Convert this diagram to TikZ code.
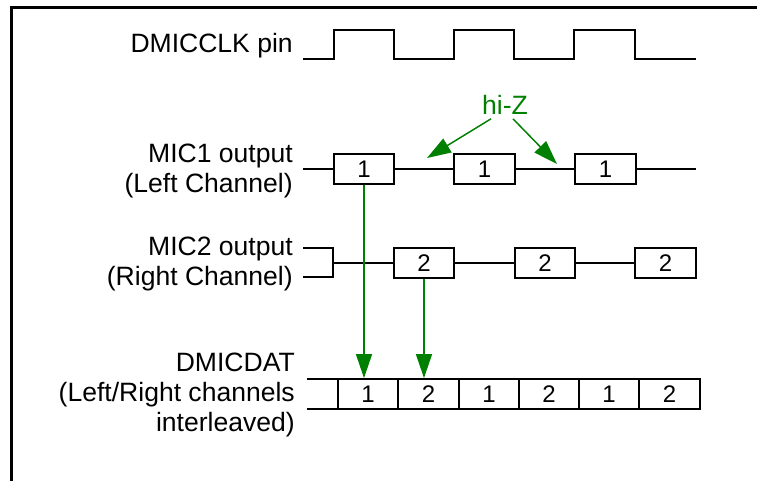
\documentclass[tikz,border=0pt]{standalone}
\usepackage{fontspec}
\setmainfont{Liberation Sans}
\usetikzlibrary{arrows.meta}
\definecolor{higreen}{RGB}{0,128,0}
\tikzset{
  wave/.style={line width=1.4pt},
  slot/.style={draw, line width=1.4pt, minimum width=45.4pt, minimum height=22.5pt, inner sep=0pt, font=\fontsize{18}{20}\selectfont},
  siglabel/.style={anchor=east, align=right, inner sep=0pt, font=\fontsize{19.9}{22.5}\selectfont},
  flow/.style={draw=higreen, line width=1.1pt, -{Triangle[length=18pt,width=12pt]}},
}

\begin{document}
\begin{tikzpicture}[x=0.75pt, y=-0.75pt]
        \useasboundingbox (0, 0) rectangle (757, 481);
        \draw[line width=1.6pt] (757, 7.5) -- (11.5, 7.5) -- (11.5, 481);

        % clock
        \node[siglabel, anchor=base east] (clk) at (293, 53) {DMICCLK pin};
        \draw[wave] (303, 59) -- (334, 59) -- (334, 30) -- (394, 30) -- (394, 59) -- (454, 59) -- (454, 30) -- (514, 30)
            -- (514, 59) -- (574, 59) -- (574, 30) -- (635, 30) -- (635, 59) -- (696, 59);

        % left mic
        \node[siglabel] (mic1) at (293, 171) {MIC1 output\\(Left Channel)};
        \node[slot] (l1) at (364, 169) {1};
        \node[slot] (l2) at (484.5, 169) {1};
        \node[slot] (l3) at (605.5, 169) {1};
        \coordinate (l0) at (303, 169);
        \coordinate (lend) at (696, 169);
        \draw[wave] (l0) -- (l1) -- (l2) -- (l3) -- (lend);

        % right mic
        \node[siglabel] (mic2) at (293, 264) {MIC2 output\\(Right Channel)};
        \node[slot] (r1) at (424, 263) {2};
        \node[slot] (r2) at (545, 263) {2};
        \node[slot] (r3) at (665.5, 263) {2};
        \coordinate (rtop) at (303, 248);
        \coordinate (rbot) at (303, 277);
        \coordinate (r0) at (333, 263);
        \draw[wave] (rtop) -- ++(30, 0) |- (rbot);
        \draw[wave] (r0) -- (r1) -- (r2) -- (r3);

        % data line
        \node[siglabel] (dat) at (295, 394.6) {DMICDAT\\(Left/Right channels\\interleaved)};
        \node[slot] (d1) at (368, 394) {1};
        \node[slot] (d2) at (428.5, 394) {2};
        \node[slot] (d3) at (489, 394) {1};
        \node[slot] (d4) at (549, 394) {2};
        \node[slot] (d5) at (609, 394) {1};
        \node[slot] (d6) at (669.5, 394) {2};
        \coordinate (dtop) at (307, 379);
        \coordinate (dbot) at (307, 409);
        \draw[wave] (dtop) -- (dtop -| d1.west);
        \draw[wave] (dbot) -- (dbot -| d1.west);

        \draw[flow] (l1.south) -- (l1.south |- d1.north);
        \draw[flow] (r1.south) -- (r1.south |- d2.north);

        % hi-Z
        \node[text=higreen, font=\fontsize{19.9}{22.5}\selectfont] (hiz) at (505, 104.5) {hi-Z};
        \coordinate (gap1) at (427, 158);
        \coordinate (gap2) at (557, 164);
        \draw[flow] ([xshift=-10.5pt]hiz.south) -- (gap1);
        \draw[flow] ([xshift=6pt]hiz.south) -- (gap2);
    \end{tikzpicture}
\end{document}
